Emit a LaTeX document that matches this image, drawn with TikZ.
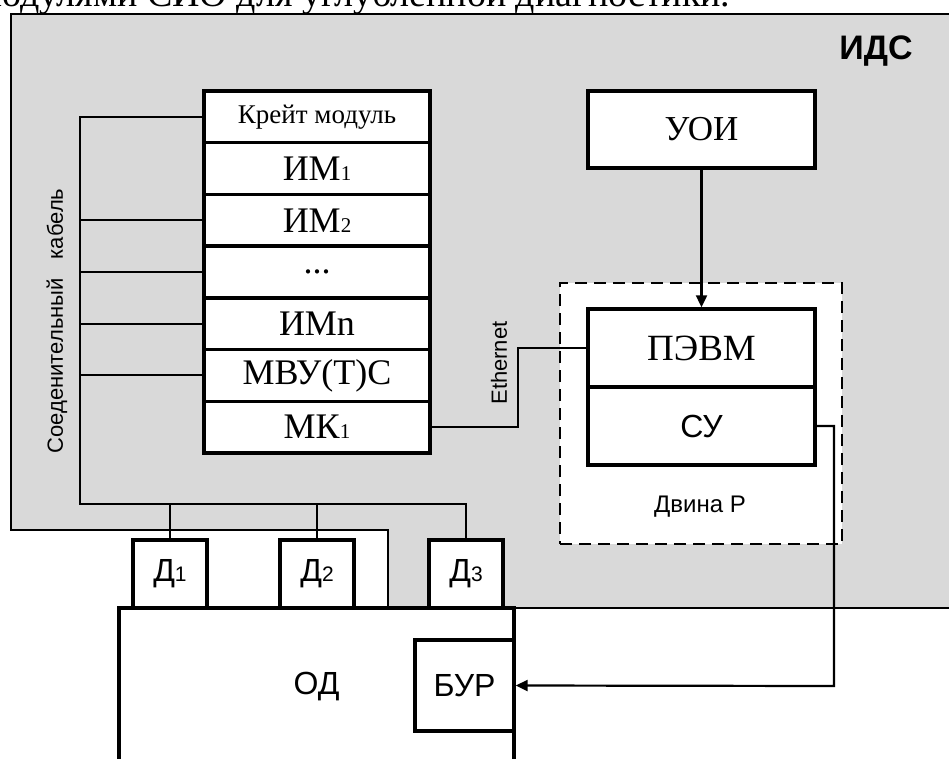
\documentclass[tikz,border=0pt]{standalone}
\usepackage{fontspec}
\setmainfont{Liberation Serif}
\setsansfont{Liberation Sans}
\usetikzlibrary{arrows.meta}
\definecolor{idsgray}{HTML}{D9D9D9}
\newcommand\smalldig[1]{{\fontsize{21}{21}\selectfont #1}}
\tikzset{
  box/.style={draw=black, line width=3.4pt, fill=white, inner sep=0pt},
  crate/.style={box, minimum width=226pt, minimum height=51.7pt, font=\fontsize{36}{40}\selectfont},
  wire/.style={draw=black, line width=2.2pt},
  arr/.style={wire, -{Triangle[length=12pt,width=11pt]}},
  sansL/.style={font=\sffamily\fontsize{32}{36}\selectfont},
  serifL/.style={font=\fontsize{36}{40}\selectfont},
  sansS/.style={font=\sffamily\fontsize{22}{24}\selectfont},
}
\begin{document}
\begin{tikzpicture}[x=1pt,y=-1pt]
\useasboundingbox (0,0) rectangle (949,759);
\clip (0,0) rectangle (949,759);
% cut-off text line at the top
\node[anchor=base west, inner sep=0pt, font=\fontsize{38}{42}\selectfont] (toptxt) at (-22,7) {модулями СИО для углубленной диагностики.};
% grey system area
\filldraw[fill=idsgray, draw=black, line width=2.4pt] (11,14) -- (955,14) -- (955,608) -- (388,608) -- (388,530) -- (11,530) -- cycle;
\node[font=\sffamily\bfseries\fontsize{34}{36}\selectfont] (ids) at (876,51) {ИДС};
% crate
\node[crate, font=\fontsize{27}{30}\selectfont] (r1) at (317,116.85) {Крейт модуль};
\node[crate] (r2) at (317,168.55) {ИМ\smalldig{1}};
\node[crate] (r3) at (317,220.25) {ИМ\smalldig{2}};
\node[crate] (r4) at (317,271.95) {...};
\node[crate] (r5) at (317,323.65) {ИМn};
\node[crate] (r6) at (317,375.35) {МВУ(Т)С};
\node[crate] (r7) at (317,427.05) {МК\smalldig{1}};
% Dvina frame
\node[draw=black, line width=2.2pt, dash pattern=on 12pt off 7pt, fill=white, minimum width=282pt, minimum height=261pt, inner sep=0pt] (dvina) at (701,413.5) {};
\node[font=\sffamily\fontsize{24}{26}\selectfont] (dvl) at (700,507) {Двина Р};
\node[box, minimum width=227pt, minimum height=77pt, font=\fontsize{35}{38}\selectfont] (uoi) at (701.5,129.5) {УОИ};
\node[box, minimum width=227pt, minimum height=78pt, font=\fontsize{37}{40}\selectfont] (pc) at (701.5,348) {ПЭВМ};
\node[box, minimum width=227pt, minimum height=78pt, sansL] (su) at (701.5,426) {СУ};
% object and sensors
\node[box, minimum width=395pt, minimum height=158pt, sansL] (od) at (316.5,687) {ОД};
\node[box, minimum width=99pt, minimum height=91pt, sansL] (bur) at (464.5,685.5) {БУР};
\node[box, minimum width=74pt, minimum height=68pt, sansL] (d1) at (170,574) {Д\smalldig{1}};
\node[box, minimum width=74pt, minimum height=68pt, sansL] (d2) at (317,574) {Д\smalldig{2}};
\node[box, minimum width=74pt, minimum height=68pt, sansL] (d3) at (466,574) {Д\smalldig{3}};
% labels
\node[rotate=90, sansS] (cabl) at (57,321) {Соеденительный\hspace{19pt}кабель};
\node[rotate=90, sansS] (ethl) at (499,363) {Ethernet};
% cable
\coordinate (cbl) at (80,504);
\draw[wire] (r1.west) -| (cbl) -| (d3.north);
\foreach \r in {r3,r4,r5,r6} { \draw[wire] (\r.west) -- (\r.west -| cbl); }
\draw[wire] (d1.north) -- (d1.north |- cbl);
\draw[wire] (d2.north) -- (d2.north |- cbl);
% ethernet
\coordinate (eth) at (518,388);
\draw[wire] (r7.east) -| (eth) |- (pc.west);
% arrows
\draw[arr] (uoi.south) -- (pc.north);
\coordinate (rt) at (834,686);
\draw[arr] (su.east) -| (rt) -- (bur.east);
\end{tikzpicture}
\end{document}
